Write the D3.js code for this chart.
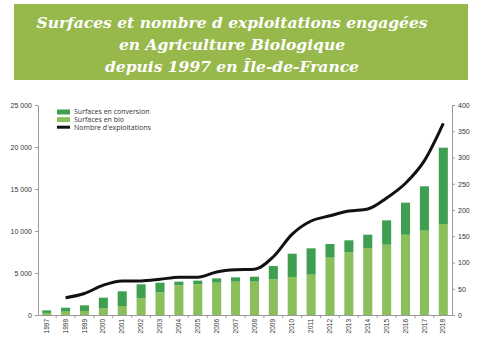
<!DOCTYPE html>
<html lang="fr">
<head>
<meta charset="utf-8">
<title>Agriculture Biologique IDF</title>
<script src="https://cdn.jsdelivr.net/npm/d3@7"></script>
<style>
  body { margin: 0; background: #fff; }
  svg { display: block; font-family: "Open Sans", "DejaVu Sans", sans-serif; }
  .axis path, .axis line { stroke: #9a9a9a; }
  .axis text { fill: #333; font-size: 7px; }
</style>
</head>
<body>
<script>
// données
var years = ["1997","1998","1999","2000","2001","2002","2003","2004","2005","2006","2007",
             "2008","2009","2010","2011","2012","2013","2014","2015","2016","2017","2018"];
var bio =        [250, 400, 480, 800, 1070, 1980, 2700, 3530, 3650, 3850, 3970,
                  3970, 4250, 4520, 4800, 6830, 7460, 7980, 8370, 9560, 10040, 10830];
var conversion = [300, 470, 670, 1260, 1750, 1670, 1150, 440, 440, 510, 510,
                  590, 1580, 2780, 3140, 1620, 1430, 1580, 2900, 3810, 5280, 9090];
// nombre d'exploitations (pas de valeur en 1997)
var exploitations = [null, 33, 41, 57, 65, 65, 68, 72, 72, 82, 86,
                     87, 111, 154, 179, 189, 198, 202, 223, 251, 294, 365];
var leftTicks = [0, 5000, 10000, 15000, 20000, 25000];
var rightTicks = [0, 50, 100, 150, 200, 250, 300, 350, 400];
var titleLines = ["Surfaces et nombre d  exploitations engagées",
                  "en Agriculture Biologique",
                  "depuis 1997 en Île-de-France"];
var legendLabels = ["Surfaces en conversion", "Surfaces en bio", "Nombre d'exploitations"];

var width = 486, height = 350;
var plotLeft = 38, plotRight = 452, plotTop = 105, plotBottom = 315;
var cConv = "#3f9f50", cBio = "#8bbf5c";

var svg = d3.select("body").append("svg")
    .attr("width", width)
    .attr("height", height);

// bandeau titre
svg.append("rect")
    .attr("x", 14).attr("y", 4)
    .attr("width", 454).attr("height", 76)
    .attr("fill", "#97b84b");
svg.append("g").selectAll("text")
    .data(titleLines)
    .enter().append("text")
    .attr("x", 232)
    .attr("y", function (d, i) { return 28 + i * 22; })
    .attr("text-anchor", "middle")
    .attr("fill", "#fff")
    .style("font-family", "'DejaVu Serif', serif")
    .style("font-style", "italic")
    .style("font-weight", "bold")
    .style("font-size", "15.5px")
    .text(function (d) { return d; });

var xScale = d3.scaleBand()
    .domain(years)
    .range([plotLeft, plotRight])
    .paddingInner(0.52)
    .paddingOuter(0.22);
var yLeft = d3.scaleLinear().domain([0, 25000]).range([plotBottom, plotTop]);
var yRight = d3.scaleLinear().domain([0, 400]).range([plotBottom, plotTop]);

var fmt = function (d) { return d3.format(",")(d).replace(/,/g, " "); };

// barres empilées
var rows = years.map(function (y, i) { return { year: y, bio: bio[i], conv: conversion[i] }; });
var stacked = d3.stack().keys(["bio", "conv"])(rows);
var colors = { bio: cBio, conv: cConv };

svg.append("g").selectAll("g")
    .data(stacked)
    .enter().append("g")
    .attr("fill", function (d) { return colors[d.key]; })
    .selectAll("rect")
    .data(function (d) { return d; })
    .enter().append("rect")
    .attr("x", function (d) { return xScale(d.data.year); })
    .attr("y", function (d) { return yLeft(d[1]); })
    .attr("width", xScale.bandwidth())
    .attr("height", function (d) { return yLeft(d[0]) - yLeft(d[1]); });

// courbe exploitations
var line = d3.line()
    .defined(function (d) { return d != null; })
    .x(function (d, i) { return xScale(years[i]) + xScale.bandwidth() / 2; })
    .y(function (d) { return yRight(d); })
    .curve(d3.curveMonotoneX);
svg.append("path")
    .datum(exploitations)
    .attr("fill", "none")
    .attr("stroke", "#111")
    .attr("stroke-width", 3)
    .attr("d", line);

// axes
svg.append("g").attr("class", "axis")
    .attr("transform", "translate(" + plotLeft + ",0)")
    .call(d3.axisLeft(yLeft).tickValues(leftTicks).tickFormat(fmt).tickSize(3).tickSizeOuter(0));
svg.append("g").attr("class", "axis")
    .attr("transform", "translate(" + plotRight + ",0)")
    .call(d3.axisRight(yRight).tickValues(rightTicks).tickSize(3).tickSizeOuter(0));

var xAxis = svg.append("g").attr("class", "axis")
    .attr("transform", "translate(0," + plotBottom + ")")
    .call(d3.axisBottom(xScale).tickSize(0).tickSizeOuter(0));
xAxis.selectAll("text")
    .attr("transform", "rotate(-90)")
    .attr("text-anchor", "end")
    .attr("x", -4)
    .attr("y", 0)
    .attr("dy", "0.32em")
    .style("font-size", "6.5px");
// petites graduations entre les années
xAxis.selectAll(".sep")
    .data(years.slice(1))
    .enter().append("line")
    .attr("class", "sep")
    .attr("x1", function (d) { return xScale(d) - xScale.step() * xScale.paddingInner() / 2; })
    .attr("x2", function (d) { return xScale(d) - xScale.step() * xScale.paddingInner() / 2; })
    .attr("y1", 0).attr("y2", 3);

// légende
var legend = svg.append("g").attr("transform", "translate(57,112)");
legendLabels.forEach(function (label, i) {
    var g = legend.append("g").attr("transform", "translate(0," + i * 7.6 + ")");
    if (i < 2) {
        g.append("rect").attr("x", 0).attr("y", -2.5).attr("width", 13).attr("height", 5)
            .attr("fill", i === 0 ? cConv : cBio);
    } else {
        g.append("line").attr("x1", 0).attr("x2", 13).attr("y1", 0).attr("y2", 0)
            .attr("stroke", "#111").attr("stroke-width", 3);
    }
    g.append("text").attr("x", 17).attr("y", 0).attr("dy", "0.35em")
        .attr("fill", "#333").style("font-size", "7px").text(label);
});
</script>
</body>
</html>
